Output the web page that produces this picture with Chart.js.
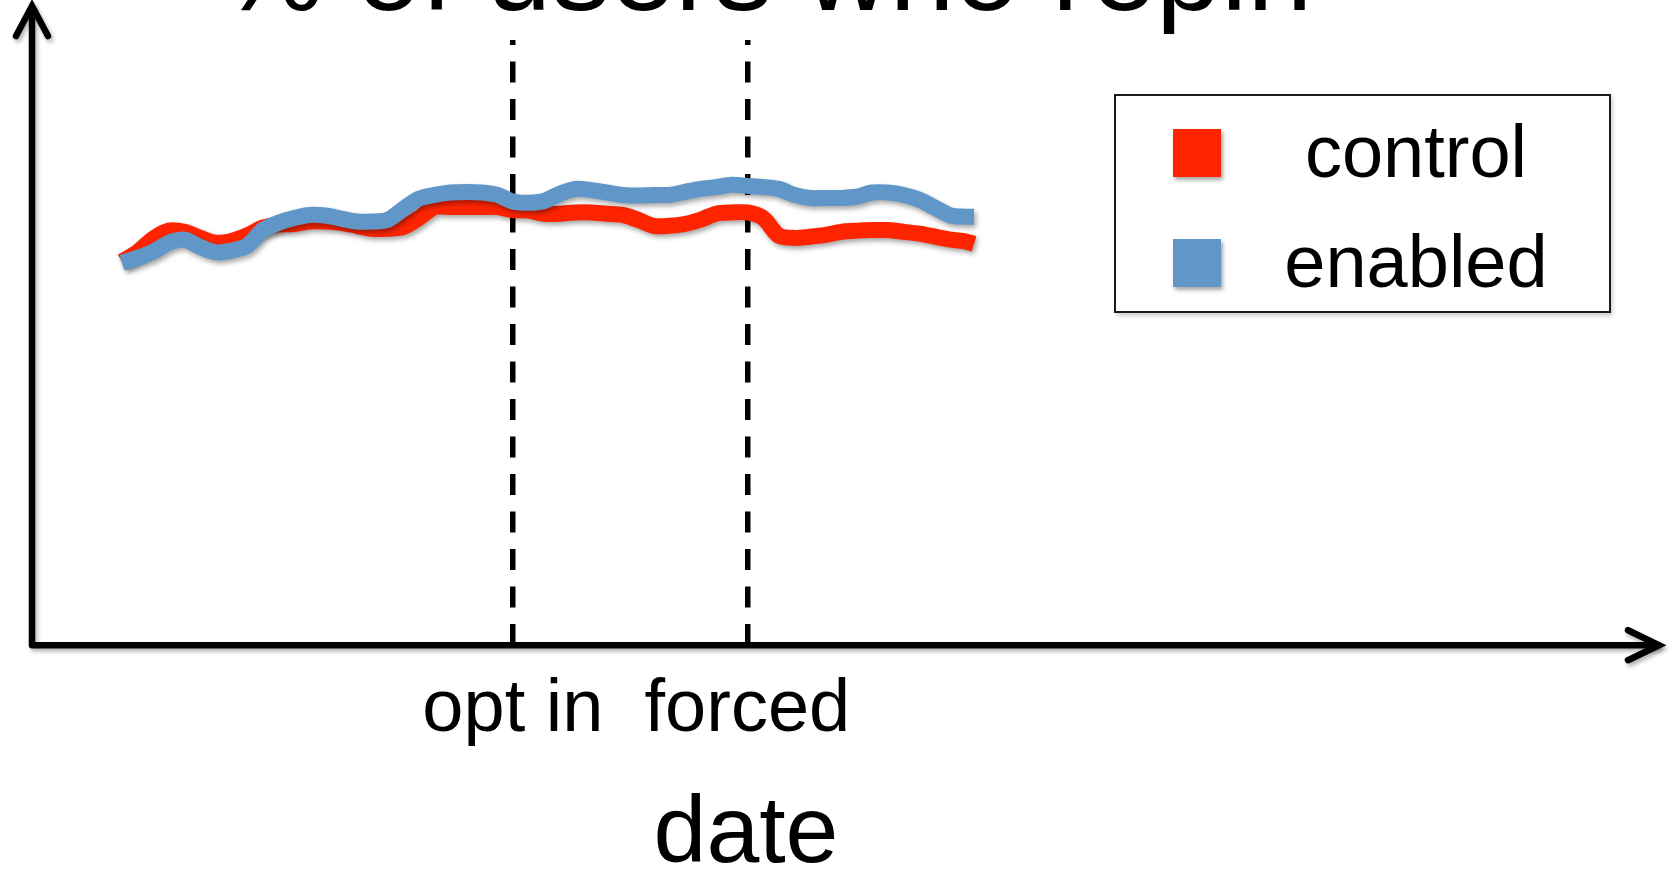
<!DOCTYPE html>
<html>
<head>
<meta charset="utf-8">
<script src="https://cdn.jsdelivr.net/npm/chart.js@4.4.1/dist/chart.umd.min.js"></script>
<style>
html,body{margin:0;padding:0;background:#fff;overflow:hidden;}
#wrap{position:relative;width:1672px;height:870px;font-family:"Liberation Sans",Arial,Helvetica,sans-serif;color:#000;}
#c{position:absolute;left:0;top:0;}
.t{position:absolute;white-space:nowrap;line-height:1;}
#legendBox{position:absolute;left:1114px;top:94px;width:497px;height:219px;box-sizing:border-box;border:2px solid #1a1a1a;background:#fff;box-shadow:2px 3px 4px rgba(0,0,0,0.18);}
.sw{position:absolute;width:48px;height:48px;box-shadow:2px 3px 4px rgba(0,0,0,0.35);}
</style>
</head>
<body>
<div id="wrap">
  <canvas id="c" width="1672" height="870"></canvas>
  <div id="title" class="t" style="left:66px;width:1400px;text-align:center;font-size:117px;top:-89px;">% of users who repin</div>
  <div id="legendBox"></div>
  <div id="xTitle" class="t" style="left:546px;width:400px;text-align:center;font-size:95px;top:782px;">date</div>
</div>
<script>
// ---- data ----
const days = [0,1,2,3,4,5,6,7,8,9,10,11,12,13,14,15,16,17,18,19,20,21,22,23,24,25,26,27,28,29,30,31,32,33,34,35,36,37,38,39,40,41,42,43,44,45,46,47,48,49,50,51,52,53,54,54.5];
const control = [63.4,65.0,67.2,68.5,68.3,67.3,66.5,66.8,67.7,69.0,
                 69.5,69.6,70.0,70.0,69.8,69.3,68.8,68.8,69.1,70.6,
                 72.4,72.4,72.4,72.4,72.4,71.9,71.8,71.3,71.3,71.5,
                 71.5,71.3,71.1,70.3,69.3,69.3,69.6,70.3,71.3,71.5,
                 71.5,70.6,67.7,67.3,67.5,67.8,68.3,68.5,68.6,68.6,
                 68.3,68.0,67.5,67.0,66.7,66.3];
const enabled = [63.2,64.0,65.0,66.5,67.0,65.8,64.9,65.2,66.0,68.6,
                 69.8,70.6,71.1,71.0,70.5,70.0,70.0,70.3,72.1,73.8,
                 74.4,74.8,74.9,74.8,74.4,73.3,73.1,73.4,74.6,75.4,
                 75.2,74.8,74.4,74.3,74.4,74.4,74.9,75.4,75.7,76.1,
                 75.9,75.7,75.4,74.4,73.9,73.9,73.9,74.1,74.8,74.8,
                 74.4,73.6,72.3,71.0,70.8,70.8];
const seriesNames = ['control','enabled'];
const markerDays = [25, 40];
const markerLabels = ['opt in', 'forced'];

const RED = '#FF2400';
const BLUE = '#6196C9';

const shadowPlugin = {
  id: 'shadow',
  beforeDatasetDraw(chart) {
    const ctx = chart.ctx;
    ctx.save();
    ctx.shadowColor = 'rgba(0,0,0,0.35)';
    ctx.shadowBlur = 5;
    ctx.shadowOffsetX = 2;
    ctx.shadowOffsetY = 3;
  },
  afterDatasetDraw(chart) { chart.ctx.restore(); }
};

const arrowAxes = {
  id: 'arrowAxes',
  beforeDatasetsDraw(chart) {
    const ctx = chart.ctx, a = chart.chartArea;
    ctx.save();
    ctx.strokeStyle = '#000';
    ctx.lineWidth = 6.5;
    ctx.lineCap = 'round';
    ctx.lineJoin = 'miter';
    ctx.shadowColor = 'rgba(0,0,0,0.3)';
    ctx.shadowBlur = 4;
    ctx.shadowOffsetX = 2;
    ctx.shadowOffsetY = 3;
    const yTip = a.top - 34, xTip = a.right + 9;
    ctx.beginPath();
    ctx.moveTo(a.left, a.bottom);
    ctx.lineTo(a.left, yTip + 2);
    ctx.moveTo(a.left, a.bottom);
    ctx.lineTo(xTip - 2, a.bottom);
    ctx.stroke();
    ctx.beginPath();
    ctx.moveTo(a.left - 16, yTip + 30);
    ctx.lineTo(a.left, yTip);
    ctx.lineTo(a.left + 16, yTip + 30);
    ctx.stroke();
    ctx.beginPath();
    ctx.moveTo(xTip - 31, a.bottom - 15);
    ctx.lineTo(xTip, a.bottom);
    ctx.lineTo(xTip - 31, a.bottom + 15);
    ctx.stroke();
    ctx.restore();
  }
};

const chart = new Chart(document.getElementById('c'), {
  type: 'line',
  data: {
    datasets: [
      { label: seriesNames[0], data: days.map((d, i) => ({x: d, y: control[i]})),
        borderColor: RED, backgroundColor: RED, borderWidth: 16, order: 1 },
      { label: seriesNames[1], data: days.map((d, i) => ({x: d, y: enabled[i]})),
        borderColor: BLUE, backgroundColor: BLUE, borderWidth: 16, order: 0 }
    ]
  },
  options: {
    responsive: false,
    animation: false,
    layout: { padding: { left: 32, right: 22, top: 40, bottom: 94 } },
    elements: {
      point: { radius: 0, hoverRadius: 0 },
      line: { tension: 0.3, borderCapStyle: 'butt', borderJoinStyle: 'round', fill: false }
    },
    plugins: { legend: { display: false }, tooltip: { enabled: false }, title: { display: false } },
    scales: {
      x: {
        type: 'linear',
        min: -5.76,
        max: 97.74,
        afterBuildTicks(scale) { scale.ticks = markerDays.map(v => ({ value: v })); },
        ticks: {
          autoSkip: false,
          maxRotation: 0,
          padding: 21,
          color: '#000',
          font: { family: '"Liberation Sans", Arial, sans-serif', size: 74 },
          callback: (v, i) => markerLabels[i]
        },
        grid: { display: true, drawOnChartArea: true, drawTicks: false, color: '#000', lineWidth: 5.5 },
        border: { display: false, dash: [21, 16.5], dashOffset: 16 }
      },
      y: { display: false, min: 0, max: 100 }
    }
  },
  plugins: [shadowPlugin, arrowAxes]
});

// legend built from the chart's datasets
const wrap = document.getElementById('wrap');
chart.data.datasets.forEach((ds, i) => {
  const sw = document.createElement('div');
  sw.className = 'sw';
  sw.style.left = '1173px';
  sw.style.top = (129 + i * 110) + 'px';
  sw.style.background = ds.borderColor;
  wrap.appendChild(sw);
  const tx = document.createElement('div');
  tx.className = 't';
  tx.style.left = '1216px';
  tx.style.width = '400px';
  tx.style.textAlign = 'center';
  tx.style.fontSize = '74px';
  tx.style.top = (115 + i * 110) + 'px';
  tx.textContent = ds.label;
  wrap.appendChild(tx);
});
</script>
</body>
</html>
